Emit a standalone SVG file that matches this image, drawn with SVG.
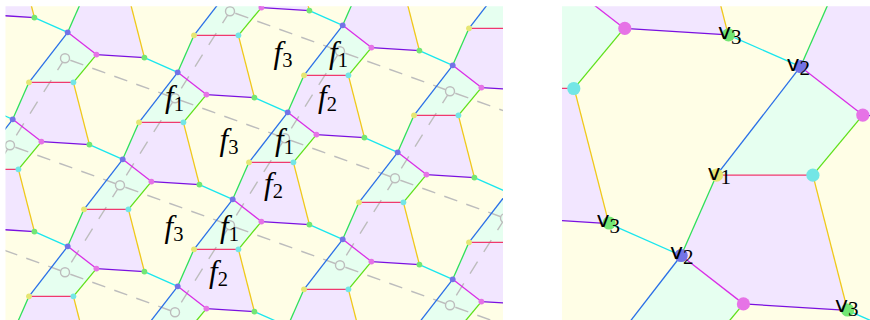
<svg xmlns="http://www.w3.org/2000/svg" width="870" height="320" viewBox="0 0 870 320">
<style>
.e{fill:none;stroke-width:1.3;vector-effect:non-scaling-stroke}
.d{r:2.9}
.g{fill:none;stroke:#bdbdbd;stroke-width:1.4}
.f{font-family:"Liberation Serif",serif;font-style:italic;font-size:31px;fill:#000}
.s{font-family:"Liberation Serif",serif;font-style:normal;font-size:20.5px}
.v{font-family:"DejaVu Sans",sans-serif;font-size:22px;fill:#000}
.n{font-family:"Liberation Serif",serif;font-size:21px}
</style>
<defs>
<clipPath id="cl"><rect x="5.5" y="6.3" width="497.5" height="314"/></clipPath>
<clipPath id="cr"><rect x="562" y="6.3" width="308" height="314"/></clipPath>
<g id="cf">
<path fill="#e6fff0" d="M0 0L28.7 22.3L5.7 50L-38.7 50Z"/>
<path fill="#f2e6ff" d="M-38.7 50L5.7 50L21.7 112.3L-26.3 109.3L-55 87Z"/>
<path fill="#fffee6" d="M28.7 22.3L76.7 25.3L110 40L71.3 90L55 127L21.7 112.3L5.7 50Z"/>
</g>
<path id="ga" class="g" stroke-dasharray="13.8 9.6" d="M5.3 1.93L105.8 38.47"/>
<path id="gb" class="g" stroke-dasharray="14 11.7" d="M0 0L-55 87"/>
<circle id="gc" r="4.5" fill="#e6fff0" stroke="#bdbdbd" stroke-width="1.4"/>
<g id="ce">
<path class="e" stroke="#2a6fe6" d="M0 0L-38.7 50"/>
<path class="e" stroke="#2fe05a" d="M-38.7 50L-55 87"/>
<path class="e" stroke="#f0386e" d="M-38.7 50L5.7 50"/>
<path class="e" stroke="#5fe01a" d="M5.7 50L28.7 22.3"/>
<path class="e" stroke="#d92fe6" d="M28.7 22.3L0 0"/>
<path class="e" stroke="#7a10e0" d="M28.7 22.3L76.7 25.3"/>
<path class="e" stroke="#1ae6ee" d="M76.7 25.3L110 40"/>
<path class="e" stroke="#f0c81a" d="M5.7 50L21.7 112.3"/>
</g>
<g id="cd">
<circle class="d" cx="0" cy="0" fill="#7373e6"/>
<circle class="d" cx="28.7" cy="22.3" fill="#e673e6"/>
<circle class="d" cx="76.7" cy="25.3" fill="#73e673"/>
<circle class="d" cx="5.7" cy="50" fill="#73e6e6"/>
<circle class="d" cx="-38.7" cy="50" fill="#e6e673"/>
</g>
<g id="rf"><use href="#cf" x="-220" y="-80"/><use href="#cf" x="-110" y="-40"/><use href="#cf"/><use href="#cf" x="110" y="40"/><use href="#cf" x="220" y="80"/><use href="#cf" x="330" y="120"/><use href="#cf" x="440" y="160"/><use href="#cf" x="550" y="200"/><use href="#cf" x="660" y="240"/></g>
<g id="re"><use href="#ce" x="-220" y="-80"/><use href="#ce" x="-110" y="-40"/><use href="#ce"/><use href="#ce" x="110" y="40"/><use href="#ce" x="220" y="80"/><use href="#ce" x="330" y="120"/><use href="#ce" x="440" y="160"/><use href="#ce" x="550" y="200"/><use href="#ce" x="660" y="240"/></g>
<g id="rd"><use href="#cd" x="-220" y="-80"/><use href="#cd" x="-110" y="-40"/><use href="#cd"/><use href="#cd" x="110" y="40"/><use href="#cd" x="220" y="80"/><use href="#cd" x="330" y="120"/><use href="#cd" x="440" y="160"/><use href="#cd" x="550" y="200"/><use href="#cd" x="660" y="240"/></g>
</defs>
<rect width="870" height="320" fill="#fff"/>
<g id="tiling" clip-path="url(#cl)">
<g id="faces" transform="translate(67.7 32.3)"><use href="#rf" x="-220" y="348"/><use href="#rf" x="-165" y="261"/><use href="#rf" x="-110" y="174"/><use href="#rf" x="-55" y="87"/><use href="#rf"/><use href="#rf" x="55" y="-87"/><use href="#rf" x="110" y="-174"/><use href="#rf" x="165" y="-261"/></g>
<g id="graph">
<use href="#ga" x="230" y="11.3"/><use href="#ga" x="340" y="51.3"/><use href="#ga" x="450" y="91.3"/>
<use href="#ga" x="65" y="58.3"/><use href="#ga" x="175" y="98.3"/><use href="#ga" x="285" y="138.3"/><use href="#ga" x="395" y="178.3"/>
<use href="#ga" x="10" y="145.3"/><use href="#ga" x="120" y="185.3"/><use href="#ga" x="230" y="225.3"/><use href="#ga" x="340" y="265.3"/><use href="#ga" x="450" y="305.3"/>
<use href="#ga" x="-45" y="232.3"/><use href="#ga" x="65" y="272.3"/>
<use href="#gb" x="230" y="11.3"/><use href="#gb" x="340" y="51.3"/><use href="#gb" x="450" y="91.3"/>
<use href="#gb" x="65" y="58.3"/><use href="#gb" x="175" y="98.3"/><use href="#gb" x="285" y="138.3"/><use href="#gb" x="395" y="178.3"/><use href="#gb" x="505" y="218.3"/>
<use href="#gb" x="10" y="145.3"/><use href="#gb" x="120" y="185.3"/><use href="#gb" x="230" y="225.3"/>
<use href="#gc" x="230" y="11.3"/><use href="#gc" x="340" y="51.3"/><use href="#gc" x="450" y="91.3"/>
<use href="#gc" x="65" y="58.3"/><use href="#gc" x="175" y="98.3"/><use href="#gc" x="285" y="138.3"/><use href="#gc" x="395" y="178.3"/><use href="#gc" x="505" y="218.3"/>
<use href="#gc" x="10" y="145.3"/><use href="#gc" x="120" y="185.3"/><use href="#gc" x="230" y="225.3"/><use href="#gc" x="340" y="265.3"/><use href="#gc" x="450" y="305.3"/>
<use href="#gc" x="65" y="272.3"/><use href="#gc" x="175" y="312.3"/>
</g>
<g id="connectors" transform="translate(67.7 32.3)"><use href="#re" x="-220" y="348"/><use href="#re" x="-165" y="261"/><use href="#re" x="-110" y="174"/><use href="#re" x="-55" y="87"/><use href="#re"/><use href="#re" x="55" y="-87"/><use href="#re" x="110" y="-174"/><use href="#re" x="165" y="-261"/></g>
<g id="dots" transform="translate(67.7 32.3)"><use href="#rd" x="-220" y="348"/><use href="#rd" x="-165" y="261"/><use href="#rd" x="-110" y="174"/><use href="#rd" x="-55" y="87"/><use href="#rd"/><use href="#rd" x="55" y="-87"/><use href="#rd" x="110" y="-174"/><use href="#rd" x="165" y="-261"/></g>
</g>
<g id="faceLabels">
<text class="f" x="273.5" y="63">f<tspan class="s" dy="4">3</tspan></text>
<text class="f" x="329" y="63">f<tspan class="s" dy="4">1</tspan></text>
<text class="f" x="318" y="107">f<tspan class="s" dy="4">2</tspan></text>
<text class="f" x="165" y="107">f<tspan class="s" dy="4">1</tspan></text>
<text class="f" x="219.5" y="150">f<tspan class="s" dy="4">3</tspan></text>
<text class="f" x="275" y="150">f<tspan class="s" dy="4">1</tspan></text>
<text class="f" x="264" y="194">f<tspan class="s" dy="4">2</tspan></text>
<text class="f" x="164.5" y="237">f<tspan class="s" dy="4">3</tspan></text>
<text class="f" x="220" y="237">f<tspan class="s" dy="4">1</tspan></text>
<text class="f" x="209" y="282">f<tspan class="s" dy="4">2</tspan></text>
</g>
<g id="zoomPanel" clip-path="url(#cr)"><g transform="translate(800.5 66.7) scale(2.17)">
<use href="#rf" y="-214"/><use href="#rf" x="-55" y="-127"/><use href="#rf" x="-110" y="-40"/><use href="#rf" x="-165" y="47"/><use href="#rf" x="-220" y="134"/><use href="#rf" x="-275" y="221"/>
<use href="#re" y="-214"/><use href="#re" x="-55" y="-127"/><use href="#re" x="-110" y="-40"/><use href="#re" x="-165" y="47"/><use href="#re" x="-220" y="134"/><use href="#re" x="-275" y="221"/>
</g>
<g id="n1"><circle cx="624.8" cy="28.4" r="6.6" fill="#e673e6"/></g>
<g id="n2"><circle cx="728.5" cy="34.8" r="6.6" fill="#73e673"/></g>
<g id="n3"><circle cx="800.5" cy="66.7" r="6.6" fill="#7373e6"/></g>
<g id="n4"><circle cx="862.8" cy="115.1" r="6.6" fill="#e673e6"/></g>
<g id="n5"><circle cx="573.8" cy="88.5" r="6.6" fill="#73e6e6"/></g>
<g id="n6"><circle cx="716.5" cy="175.2" r="6.6" fill="#e6e673"/></g>
<g id="n7"><circle cx="812.9" cy="175.2" r="6.6" fill="#73e6e6"/></g>
<g id="n8"><circle cx="609.1" cy="223" r="6.6" fill="#73e673"/></g>
<g id="n9"><circle cx="681.1" cy="255.5" r="6.6" fill="#7373e6"/></g>
<g id="n10"><circle cx="743.4" cy="303.9" r="6.6" fill="#e673e6"/></g>
<g id="n11"><circle cx="847.6" cy="310" r="6.6" fill="#73e673"/></g>
</g>
<g id="vertexLabels">
<text class="v" x="718" y="38.5">v<tspan class="n" dy="5.5">3</tspan></text>
<text class="v" x="786.5" y="70.5">v<tspan class="n" dy="4.5">2</tspan></text>
<text class="v" x="707.5" y="180">v<tspan class="n" dy="4">1</tspan></text>
<text class="v" x="670" y="259.3">v<tspan class="n" dy="4.7">2</tspan></text>
<text class="v" x="596.5" y="227">v<tspan class="n" dy="6">3</tspan></text>
<text class="v" x="835" y="311.5">v<tspan class="n" dy="4.5">3</tspan></text>
</g>
</svg>
